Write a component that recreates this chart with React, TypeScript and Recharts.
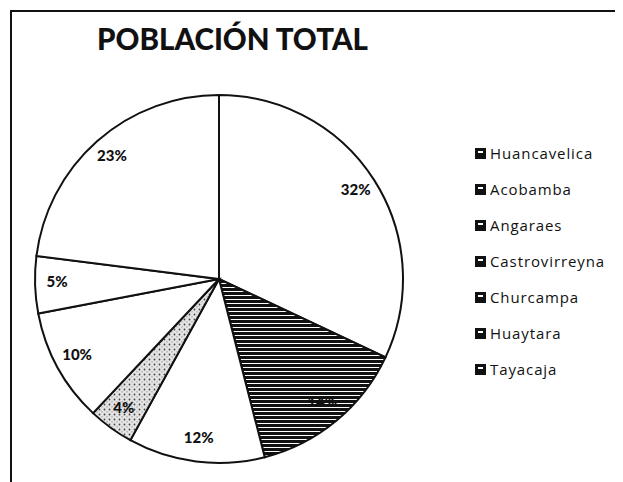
import { Cell, Legend, Pie, PieChart } from 'recharts';

const provinces = [
  'Huancavelica',
  'Acobamba',
  'Angaraes',
  'Castrovirreyna',
  'Churcampa',
  'Huaytara',
  'Tayacaja',
];
const shares = [32, 14, 12, 4, 10, 5, 23];
const sliceFills = [
  '#ffffff',
  'url(#stripes)',
  '#ffffff',
  'url(#speckle)',
  '#ffffff',
  '#ffffff',
  '#ffffff',
];

const data = provinces.map((name, i) => ({ name, value: shares[i] }));

const RADIAN = Math.PI / 180;

const renderLabel = (props: any) => {
  const { cx, cy, midAngle, outerRadius, value } = props;
  const r = outerRadius * 0.88;
  const x = cx + r * Math.cos(-midAngle * RADIAN);
  const y = cy + r * Math.sin(-midAngle * RADIAN);
  return (
    <text
      x={x}
      y={y - 3}
      textAnchor='middle'
      dominantBaseline='central'
      fill='#111'
      fontFamily='Lato'
      fontWeight={900}
      fontSize={15}
    >
      {`${value}%`}
    </text>
  );
};

const LegendContent = () => (
  <div>
    {provinces.map((name) => (
      <div
        key={name}
        style={{ display: 'flex', alignItems: 'center', height: 36 }}
      >
        <svg width={11} height={11} style={{ marginRight: 4 }}>
          <rect x={0} y={0} width={11} height={11} fill='#111' />
          <rect x={3} y={3} width={5} height={2} fill='#fff' />
        </svg>
        <span
          style={{
            fontFamily: 'Open Sans',
            fontSize: 15,
            fontWeight: 500,
            letterSpacing: 0.9,
            color: '#111',
          }}
        >
          {name}
        </span>
      </div>
    ))}
  </div>
);

export default function App() {
  return (
    <div style={{ position: 'relative', width: 615, height: 474 }}>
      <div
        style={{
          position: 'absolute',
          left: 2,
          top: 2,
          width: 620,
          height: 480,
          borderLeft: '2px solid #111',
          borderTop: '2px solid #111',
        }}
      />
      <div
        style={{
          position: 'absolute',
          left: 89,
          top: 13,
          fontFamily: 'Lato',
          fontWeight: 900,
          fontSize: 29.5,
          color: '#111',
          whiteSpace: 'nowrap',
        }}
      >
        POBLACIÓN TOTAL
      </div>
      <PieChart width={615} height={474} style={{ position: 'absolute' }}>
        <defs>
          <pattern
            id='stripes'
            width={6}
            height={4}
            patternUnits='userSpaceOnUse'
          >
            <rect width={6} height={4} fill='#fff' />
            <rect width={6} height={3} fill='#111' />
          </pattern>
          <pattern
            id='speckle'
            width={5}
            height={5}
            patternUnits='userSpaceOnUse'
          >
            <rect width={5} height={5} fill='#e4e4e4' />
            <circle cx={1.5} cy={1.5} r={0.9} fill='#444' />
            <circle cx={4} cy={3.8} r={0.6} fill='#777' />
          </pattern>
        </defs>
        <Pie
          data={data}
          dataKey='value'
          nameKey='name'
          cx={206}
          cy={266}
          outerRadius={184}
          startAngle={90}
          endAngle={-270}
          stroke='#111'
          strokeWidth={2}
          labelLine={false}
          label={renderLabel}
          isAnimationActive={false}
        >
          {data.map((entry, index) => (
            <Cell key={`cell-${entry.name}`} fill={sliceFills[index]} />
          ))}
        </Pie>
        <Legend
          layout='vertical'
          content={<LegendContent />}
          wrapperStyle={{ left: 467, top: 127, width: 150 }}
        />
      </PieChart>
    </div>
  );
}
